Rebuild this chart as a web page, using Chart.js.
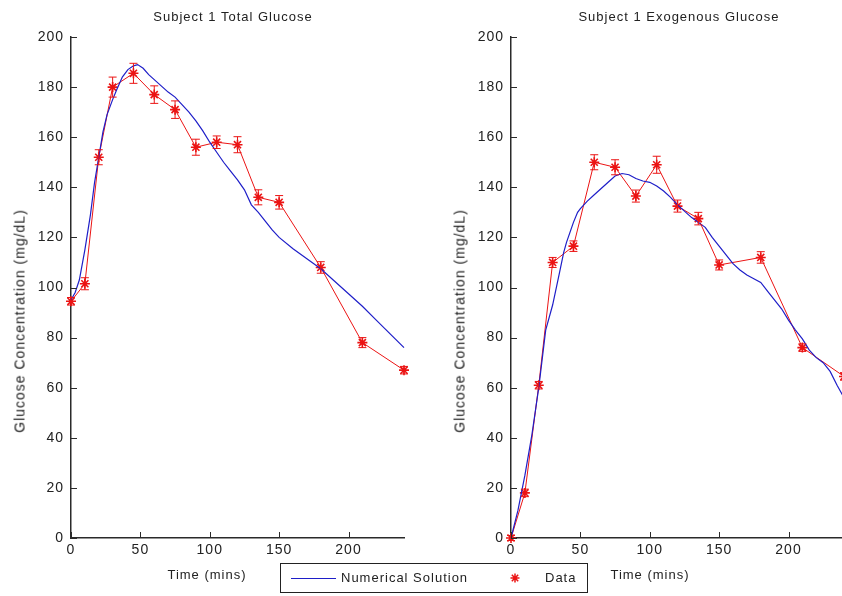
<!DOCTYPE html>
<html>
<head>
<meta charset="utf-8">
<script src="https://cdn.jsdelivr.net/npm/chart.js@4.4.0/dist/chart.umd.min.js"></script>
<style>
  html, body { margin: 0; padding: 0; background: #fff; }
  body { width: 842px; height: 596px; overflow: hidden; position: relative;
         font-family: "Liberation Sans", Arial, sans-serif; color: #222; }
  .box { position: absolute; top: 0; width: 420px; height: 596px; }
  .lbl { position: absolute; font-size: 13px; letter-spacing: 1px; white-space: nowrap; line-height: 15px; }
  .ttl { transform: translateX(-50%); }
  .ylab { font-size: 14px; letter-spacing: 1px; transform: translate(-50%, -50%) rotate(-90deg); }
  #legend { position: absolute; left: 280px; top: 563px; width: 306px; height: 28px;
            border: 1px solid #222; background: #fff; }
  #legend .line { position: absolute; left: 10px; top: 14px; width: 45px; border-top: 1px solid rgb(30,30,200); }
</style>
</head>
<body>
<div class="box" style="left:0"><canvas id="total"></canvas></div>
<div class="box" style="left:440px"><canvas id="exo"></canvas></div>

<div class="lbl ttl" style="left:233px; top:9px">Subject 1 Total Glucose</div>
<div class="lbl ttl" style="left:679px; top:9px">Subject 1 Exogenous Glucose</div>
<div class="lbl ylab" style="left:20px; top:321px">Glucose Concentration (mg/dL)</div>
<div class="lbl ylab" style="left:460px; top:321px">Glucose Concentration (mg/dL)</div>
<div class="lbl ttl" style="left:207px; top:567px">Time (mins)</div>
<div class="lbl ttl" style="left:650px; top:567px">Time (mins)</div>

<div id="legend">
  <div class="line"></div>
  <div class="lbl" style="left:60px; top:6px">Numerical Solution</div>
  <canvas id="legStar" width="14" height="14" style="position:absolute; left:227px; top:7px"></canvas>
  <div class="lbl" style="left:264px; top:6px">Data</div>
</div>

<script>
// measured samples
const sampleTimes = [0, 10, 20, 30, 45, 60, 75, 90, 105, 120, 135, 150, 180, 210, 240];
const totalData = [94.5, 101.5, 152, 180, 185.5, 177, 171, 156, 158, 157, 136, 134, 108, 78, 67];
const totalErr  = [1.5, 2.4, 3, 4, 4, 3.5, 3.5, 3.2, 2.5, 3.2, 3, 2.7, 2.3, 2, 1.5];
const exoData   = [0, 18, 61, 110, 116.5, 150, 148, 136.5, 149, 132.5, 127.5, 109, 112, 76, 64.5];
const exoErr    = [1, 1.5, 1.5, 2, 2.1, 3, 3, 2.4, 3.4, 2.4, 2.5, 2, 2.3, 1.5, 1.5];

// numerical solution (model curves)
const totalModelT = [0, 3, 6, 10, 14, 17, 20, 23, 26, 30, 33, 37, 41, 45, 48, 52, 56, 60, 65, 70, 75, 80, 85, 90,
                     95, 100, 105, 110, 115, 120, 125, 130, 135, 140, 145, 150, 160, 170, 180, 190, 200, 210, 220, 230, 240];
const totalModel  = [95, 98, 103, 115, 129, 142, 152, 162, 169, 175, 179, 184, 187, 188.5, 189, 187.5, 185, 183, 180.5, 178, 176, 173, 170, 166.5,
                     162.5, 158, 154, 150, 146.5, 143, 139, 133, 130, 126.5, 123, 120, 115.5, 111.5, 107.5, 102.5, 97.5, 92.5, 87, 81.5, 76];
const exoModelT = [0, 5, 10, 15, 20, 25, 30, 35, 38, 40, 45, 48, 50, 55, 60, 65, 70, 75, 80, 85, 90, 95, 100, 105, 110, 115, 120,
                   125, 130, 135, 140, 145, 150, 155, 160, 165, 170, 175, 180, 185, 190, 195, 200, 205, 210, 215, 220, 225, 230, 235, 240];
const exoModel  = [0, 11, 25, 41, 60, 83, 93, 106, 114, 118, 126, 130, 131.5, 134.5, 137, 139.5, 142, 144.5, 145.5, 145, 143.5, 142.5, 142, 140.5, 138.5, 136, 133,
                   130.5, 128, 126, 124, 120, 116.5, 113, 109.5, 107, 105, 103.5, 102, 98.5, 95, 91.5, 87, 83, 79.5, 75, 72, 70, 66.5, 61, 56];

const xTicks = [0, 50, 100, 150, 200];
const yTicks = [0, 20, 40, 60, 80, 100, 120, 140, 160, 180, 200];

const RED = 'rgb(235,20,20)';
const BLUE = 'rgb(30,30,200)';
const AXIS = '#2a2a2a';

Chart.defaults.font.family = '"Liberation Sans", Arial, sans-serif';
Chart.defaults.font.size = 13;
Chart.defaults.color = '#222';

function pts(xs, ys) {
  return xs.map((x, i) => ({ x: x, y: ys[i] }));
}

// vertical error bars with caps on the data series
const errorBars = {
  id: 'errorBars',
  afterDatasetsDraw(chart) {
    const ds = chart.data.datasets[1];
    const xs = chart.scales.x, ys = chart.scales.y;
    const ctx = chart.ctx;
    ctx.save();
    ctx.strokeStyle = RED;
    ctx.lineWidth = 1;
    ds.data.forEach((p, i) => {
      const e = ds.errors[i];
      const px = xs.getPixelForValue(p.x);
      const top = ys.getPixelForValue(p.y + e);
      const bot = ys.getPixelForValue(p.y - e);
      ctx.beginPath();
      ctx.moveTo(px, top); ctx.lineTo(px, bot);
      ctx.moveTo(px - 4, top); ctx.lineTo(px + 4, top);
      ctx.moveTo(px - 4, bot); ctx.lineTo(px + 4, bot);
      ctx.stroke();
    });
    ctx.restore();
  }
};

// matlab style ticks pointing into the plot
const innerTicks = {
  id: 'innerTicks',
  beforeDraw(chart) { chart.ctx.letterSpacing = '1px'; },
  afterDraw(chart) {
    const { ctx, chartArea: a } = chart;
    const xs = chart.scales.x, ys = chart.scales.y;
    ctx.save();
    ctx.strokeStyle = AXIS;
    ctx.lineWidth = 1;
    ctx.beginPath();
    xTicks.forEach(v => {
      const px = Math.round(xs.getPixelForValue(v)) + 0.5;
      ctx.moveTo(px, a.bottom); ctx.lineTo(px, a.bottom - 6);
    });
    yTicks.forEach(v => {
      const py = Math.round(ys.getPixelForValue(v)) + 0.5;
      ctx.moveTo(a.left, py); ctx.lineTo(a.left + 6, py);
    });
    ctx.stroke();
    ctx.restore();
  }
};

function makeChart(id, modelT, model, data, errs) {
  return new Chart(document.getElementById(id), {
    type: 'line',
    data: {
      datasets: [{
        label: 'Numerical Solution',
        data: pts(modelT, model),
        borderColor: BLUE,
        borderWidth: 1.2,
        pointRadius: 0,
        tension: 0,
        clip: false
      }, {
        label: 'Data',
        data: pts(sampleTimes, data),
        errors: errs,
        borderColor: RED,
        borderWidth: 1,
        pointStyle: 'star',
        pointRadius: 5,
        pointBorderWidth: 1.6,
        pointBorderColor: RED,
        pointBackgroundColor: RED,
        tension: 0,
        clip: false
      }]
    },
    options: {
      responsive: false,
      animation: false,
      layout: { padding: { top: 37, right: 16, left: 0, bottom: 0 } },
      plugins: { legend: { display: false }, tooltip: { enabled: false } },
      scales: {
        x: {
          type: 'linear', min: 0, max: 240,
          afterBuildTicks: s => { s.ticks = xTicks.map(v => ({ value: v })); },
          afterFit: s => { s.height = 58; },
          grid: { display: false, drawTicks: false },
          border: { color: AXIS, width: 1.5 },
          ticks: { padding: 4, maxRotation: 0, font: { size: 14 } }
        },
        y: {
          min: 0, max: 200,
          afterBuildTicks: s => { s.ticks = yTicks.map(v => ({ value: v })); },
          afterFit: s => { s.width = 71; },
          grid: { display: false, drawTicks: false },
          border: { color: AXIS, width: 1.5 },
          ticks: { padding: 7, font: { size: 14 } }
        }
      }
    },
    plugins: [errorBars, innerTicks]
  });
}

for (const c of document.querySelectorAll('.box canvas')) { c.width = 420; c.height = 596; }
makeChart('total', totalModelT, totalModel, totalData, totalErr);
makeChart('exo', exoModelT, exoModel, exoData, exoErr);

// legend marker
const lc = document.getElementById('legStar').getContext('2d');
lc.strokeStyle = RED; lc.lineWidth = 1.5;
lc.beginPath();
lc.moveTo(7, 2.5); lc.lineTo(7, 11.5);
lc.moveTo(2.5, 7); lc.lineTo(11.5, 7);
lc.moveTo(3.8, 3.8); lc.lineTo(10.2, 10.2);
lc.moveTo(10.2, 3.8); lc.lineTo(3.8, 10.2);
lc.stroke();
</script>
</body>
</html>
